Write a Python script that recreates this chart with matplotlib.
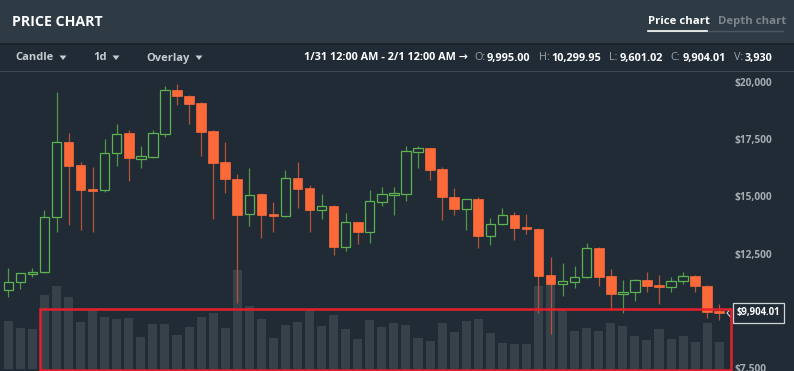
import matplotlib
matplotlib.use("Agg")
import matplotlib.pyplot as plt
from matplotlib.patches import Rectangle, Polygon

# daily OHLC, 2017-12-03 .. 2018-01-31
opens = [10896, 11259, 11608, 11683, 14087, 17391, 16359, 15323, 15267, 16884,
         17758, 16648, 16735, 17727, 19663, 19401, 19069, 17858, 16504, 15761,
         14218, 15105, 14231, 14143, 15791, 15367, 14419, 14594, 12802, 13868,
         13457, 14755, 15074, 15118, 16954, 17102, 16184, 14987, 14462, 14873,
         13282, 13781, 14174, 13663, 13575, 11552, 11171, 11246, 11464, 12758,
         11508, 10734, 10809, 11346, 11115, 11053, 11289, 11508, 11097, 9995.00]
closes = [11272, 11639, 11709, 14087, 17391, 16342, 15293, 15223, 16884, 17740,
          16665, 16753, 17758, 19663, 19375, 19025, 17828, 16473, 15747, 14187,
          15061, 14187, 14143, 15791, 15337, 14419, 14567, 12802, 13868, 13444,
          14786, 15092, 15149, 16971, 17102, 16154, 14961, 14449, 14873, 13282,
          13807, 14174, 13632, 13575, 11534, 11158, 11303, 11490, 12745, 11490,
          10734, 10809, 11346, 11097, 11053, 11303, 11508, 11084, 9961, 9904.01]
highs = [11858, 11650, 11858, 14406, 19550, 17758, 16504, 16272, 17496, 18164,
         17902, 17203, 17902, 19825, 19913, 19420, 19126, 17902, 17378, 15979,
         16263, 15130, 14755, 16154, 16504, 15485, 15105, 14620, 14275, 13890,
         15280, 15411, 15411, 17203, 17203, 17120, 16272, 15367, 14890, 14961,
         14056, 14493, 14318, 14231, 13632, 12351, 12102, 11958, 12963, 12780,
         11814, 11346, 11403, 11696, 11552, 11490, 11683, 11552, 11120, 10299.95]
lows = [10590, 10940, 11490, 11650, 13457, 13750, 13518, 13457, 15205, 16329,
        15686, 16254, 16700, 17609, 19008, 18177, 16766, 14025, 15136, 10354,
        13719, 13195, 13457, 14120, 14506, 13457, 14025, 12452, 12614, 12933,
        12976, 14594, 14200, 14812, 16241, 15730, 13982, 14200, 13532, 12758,
        12889, 13760, 13081, 13370, 9891, 8973, 10660, 11010, 11440, 11097,
        10022, 9917, 10415, 10822, 10284, 10822, 11185, 10809, 9698, 9601.02]
volumes = [7060, 5980, 5880, 10880, 12160, 10580, 6860, 8750, 7640, 7350,
           7500, 4700, 6570, 6620, 4950, 6170, 7640, 8280, 6070, 14550,
           9260, 7280, 4600, 6470, 6840, 8820, 6320, 7940, 5880, 4410,
           7250, 6170, 6760, 6470, 4600, 4120, 6810, 5440, 7100, 7350,
           5250, 3780, 3680, 3680, 12200, 12500, 8820, 5630, 5980, 5590,
           6760, 6370, 4850, 4220, 5920, 4370, 4850, 3970, 6760, 3930]
# $10,000 sits under the last-price tag, so it is left out
price_ticks = [7500, 12500, 15000, 17500, 20000]
last_close = closes[-1]

BG = "#202b35"
HEADER = "#2e3b44"
GREEN = "#5cb34f"
GREEN_WICK = "#4f9a45"
RED = "#fd6a3a"
RED_WICK = "#b4543a"
VOL = "#36414a"
TICK = "#a5adb3"

plt.rcParams["font.family"] = ["Open Sans", "DejaVu Sans"]

W, H = 794, 371
fig = plt.figure(figsize=(W / 100, H / 100), dpi=100)
fig.patch.set_facecolor(BG)


def fx(px):
    return px / W


def fy(py):
    return 1 - py / H


# header band
fig.patches.append(Rectangle((0, fy(43)), 1, 43 / H, transform=fig.transFigure,
                             facecolor=HEADER, edgecolor="none", zorder=0))
fig.patches.append(Rectangle((0, fy(45)), 1, 2 / H, transform=fig.transFigure,
                             facecolor="#19222a", edgecolor="none", zorder=0))
fig.patches.append(Rectangle((0, fy(72)), 1, 1.5 / H, transform=fig.transFigure,
                             facecolor="#3b4751", edgecolor="none", zorder=0))

fig.text(fx(12), fy(22), "PRICE CHART", color="white", fontsize=10.2,
         fontweight="bold", va="center", ha="left")
fig.text(fx(648), fy(21.5), "Price chart", color="white", fontsize=8.2,
         fontweight="bold", va="center", ha="left")
fig.text(fx(718), fy(21.5), "Depth chart", color="#7b858d", fontsize=8.2,
         fontweight="bold", va="center", ha="left")
fig.lines.append(plt.Line2D([fx(648), fx(783)], [fy(30.5), fy(30.5)],
                            transform=fig.transFigure, color="#4c5861", lw=1))
fig.lines.append(plt.Line2D([fx(648), fx(707)], [fy(30.5), fy(30.5)],
                            transform=fig.transFigure, color="white", lw=1.2))

# toolbar
for label, x0, tri in [("Candle", 15, 63), ("1d", 93, 116), ("Overlay", 146, 199)]:
    fig.text(fx(x0), fy(58), label, color="#c5ccd1", fontsize=8,
             fontweight="bold", va="center", ha="left")
    fig.patches.append(Polygon([[fx(tri - 3.5), fy(55.5)], [fx(tri + 3.5), fy(55.5)],
                                [fx(tri), fy(60)]], closed=True,
                               transform=fig.transFigure, facecolor="#c5ccd1",
                               edgecolor="none"))

# OHLCV readout, laid out left to right from measured widths
info = [("1/31 12:00 AM - 2/1 12:00 AM \u2192", "white", "bold", 6),
        ("O:", "#9aa3aa", "normal", 2), ("9,995.00", "white", "bold", 8),
        ("H:", "#9aa3aa", "normal", 2), ("10,299.95", "white", "bold", 8),
        ("L:", "#9aa3aa", "normal", 2), ("9,601.02", "white", "bold", 8),
        ("C:", "#9aa3aa", "normal", 2), ("9,904.01", "white", "bold", 8),
        ("V:", "#9aa3aa", "normal", 2), ("3,930", "white", "bold", 0)]
renderer = fig.canvas.get_renderer()
xpos = 304
for s, c, wgt, gap in info:
    t = fig.text(fx(xpos), fy(58), s, color=c, fontsize=7.8, fontweight=wgt,
                 va="center", ha="left")
    bb = t.get_window_extent(renderer)
    xpos = bb.x1 + gap

# chart axes: candle i sits at pixel 8.3 + 12.05 * i
rect = [0, 0, fx(730), (H - 72.5) / H]
x_left = -8.3 / 12.05
x_right = (730 - 8.3) / 12.05
px_per_dollar = 0.02288
y_top = 20000 + (82 - 72.5) / px_per_dollar
y_bot = 20000 - (H - 82) / px_per_dollar

ax_vol = fig.add_axes(rect)
ax_vol.set_facecolor(BG)
idx = list(range(len(volumes)))
ax_vol.bar(idx, volumes, width=0.75, color=VOL, edgecolor="none")
vol_per_px = 147
ax_vol.set_ylim(-2 * vol_per_px, -2 * vol_per_px + (H - 72.5) * vol_per_px)
ax_vol.set_xlim(x_left, x_right)
ax_vol.axis("off")

ax = fig.add_axes(rect)
ax.patch.set_alpha(0)
for i in idx:
    o, c, h, l = opens[i], closes[i], highs[i], lows[i]
    up = c >= o
    ax.vlines(i, l, h, color=GREEN_WICK if up else RED_WICK, lw=0.9, zorder=2)
    lo, hi = min(o, c), max(o, c)
    body = max(hi - lo, 50)
    if up:
        ax.bar(i, body, bottom=lo, width=0.78, facecolor=BG, edgecolor=GREEN,
               linewidth=0.9, zorder=3)
    else:
        ax.bar(i, body, bottom=lo, width=0.8, facecolor=RED, edgecolor=RED,
               linewidth=0.5, zorder=3)

ax.set_xlim(x_left, x_right)
ax.set_ylim(y_bot, y_top)
ax.yaxis.tick_right()
ax.set_yticks(price_ticks)
ax.set_yticklabels(["${:,}".format(t) for t in price_ticks])
ax.tick_params(axis="y", length=0, pad=3, labelsize=7.3, labelcolor=TICK)
for t in ax.get_yticklabels():
    t.set_fontweight("bold")
ax.set_xticks([])
for s in ax.spines.values():
    s.set_visible(False)

# current price tag
y_last = fy(82 + (20000 - last_close) * px_per_dollar)
fig.patches.append(Rectangle((fx(732.5), y_last - 10 / H), 51.5 / W, 20 / H,
                             transform=fig.transFigure, facecolor=BG,
                             edgecolor="#cfd4d8", linewidth=0.9))
fig.text(fx(758.2), y_last, "${:,.2f}".format(last_close), color="white",
         fontsize=6.9, fontweight="bold", va="center", ha="center")
fig.lines.append(plt.Line2D([fx(730.5), fx(727), fx(730.5)],
                            [y_last + 4 / H, y_last, y_last - 4 / H],
                            transform=fig.transFigure, color="#cfd4d8", lw=0.8))

# red highlight box
fig.patches.append(Rectangle((fx(40.3), fy(369.5)), (731 - 40.3) / W, 61 / H,
                             transform=fig.transFigure, facecolor="none",
                             edgecolor="#e5202b", linewidth=1.8, zorder=10))

fig.savefig("out.png", dpi=100, facecolor=BG)
